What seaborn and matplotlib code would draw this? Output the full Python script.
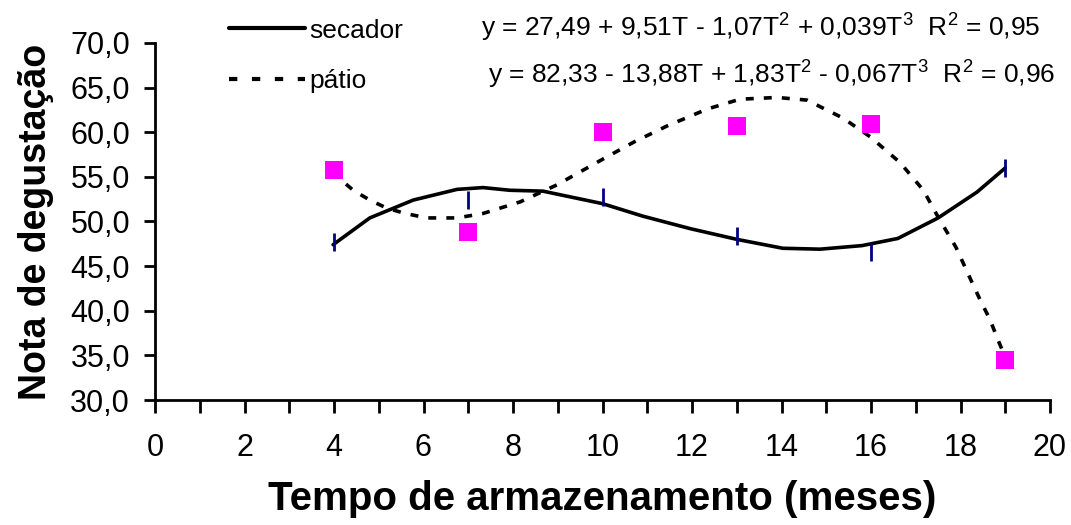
import matplotlib
matplotlib.use("Agg")
import matplotlib.pyplot as plt
import seaborn as sns
import pandas as pd
from matplotlib.lines import Line2D

# observed data
meses = [4, 7, 10, 13, 16, 19]
secador = [47.7, 52.4, 52.8, 48.4, 46.6, 56.0]
patio = [55.8, 48.8, 60.0, 60.7, 60.9, 34.5]

# curves
sec_curve_x = [3.98, 4.8, 5.77, 6.75, 7.33, 7.93, 8.67, 10.0, 10.9, 11.96, 13.0, 14.03, 14.86, 15.8, 16.6, 17.5, 18.37, 19.0]
sec_curve_y = [47.4, 50.4, 52.4, 53.6, 53.8, 53.5, 53.4, 52.0, 50.6, 49.2, 48.0, 47.0, 46.9, 47.3, 48.1, 50.4, 53.3, 56.0]
pat_curve_x = [3.96, 4.43, 4.8, 5.18, 5.59, 6.08, 6.75, 7.33, 8.16, 8.98, 9.94, 10.7, 11.44, 12.34, 13.07, 13.9, 14.57, 15.37, 15.98, 16.65, 17.17, 17.5, 17.9, 18.2, 18.44, 18.66, 18.84, 18.95]
pat_curve_y = [55.5, 53.5, 52.4, 51.5, 50.9, 50.4, 50.4, 50.9, 52.2, 54.1, 56.8, 58.9, 60.7, 62.6, 63.7, 63.9, 63.6, 61.6, 59.5, 56.6, 53.5, 50.5, 47.1, 43.8, 41.2, 39.0, 36.7, 35.4]

eq1 = r"y = 27,49 + 9,51T - 1,07T$^{2}$ + 0,039T$^{3}$  R$^{2}$ = 0,95"
eq2 = r"y = 82,33 - 13,88T + 1,83T$^{2}$ - 0,067T$^{3}$  R$^{2}$ = 0,96"

sns.set_style("ticks")
plt.rcParams['font.family'] = ['Liberation Sans', 'DejaVu Sans']
plt.rcParams['mathtext.fontset'] = 'custom'
plt.rcParams['mathtext.rm'] = 'Liberation Sans'
plt.rcParams['mathtext.it'] = 'Liberation Sans'
plt.rcParams['mathtext.default'] = 'regular'
for k in ['text.color', 'axes.labelcolor', 'xtick.color', 'ytick.color']:
    plt.rcParams[k] = 'black'

fig = plt.figure(figsize=(10.71, 5.25), dpi=100)
ax = fig.add_axes([155/1071, 1-400/525, (1050-155)/1071, (400-43)/525])

sns.lineplot(x=sec_curve_x, y=sec_curve_y, ax=ax, color='black', linewidth=2.6, sort=False)
sns.lineplot(x=pat_curve_x, y=pat_curve_y, ax=ax, color='black', linewidth=2.6, sort=False,
             linestyle=(0, (2.2, 2.8)))
sns.scatterplot(x=meses, y=secador, ax=ax, marker='|', s=150, color='#000080', linewidth=2, zorder=5)
sns.scatterplot(x=meses, y=patio, ax=ax, marker='s', s=150, color='#FF00FF', linewidth=0, zorder=5)

ax.set_xlim(0, 20)
ax.set_ylim(30, 70)
ax.set_xticks(range(0, 21, 2))
ax.set_xticks(range(0, 21, 1), minor=True)
ax.set_yticks(range(30, 71, 5))
ax.set_yticklabels([f"{v},0" for v in range(30, 71, 5)])
ax.tick_params(axis='both', which='both', direction='out', color='black', width=2, labelsize=22,
               labelcolor='black')
ax.tick_params(axis='y', length=8, pad=10)
ax.tick_params(axis='x', which='both', length=9, pad=15)
for s in ['left', 'bottom']:
    ax.spines[s].set_linewidth(2)
    ax.spines[s].set_color('black')
sns.despine(ax=ax)

ax.set_xlabel("Tempo de armazenamento (meses)", fontsize=29, fontweight='bold', labelpad=12, color='black')
ax.set_ylabel("Nota de degustação", fontsize=27, fontweight='bold', labelpad=12, color='black')

handles = [Line2D([], [], color='black', linewidth=3),
           Line2D([], [], color='black', linewidth=3, linestyle=(0, (2, 3.5)))]
fig.legend(handles, ['secador', 'pátio'], loc='upper left', bbox_to_anchor=(205/1071, 1.01),
           frameon=False, fontsize=19, handlelength=2.9, handletextpad=0.15, labelspacing=1.0)

fig.text(1040/1071, 1-28/525, eq1, ha='right', va='center', fontsize=19)
fig.text(1055/1071, 1-75/525, eq2, ha='right', va='center', fontsize=19)

fig.savefig("out.png", dpi=100)
